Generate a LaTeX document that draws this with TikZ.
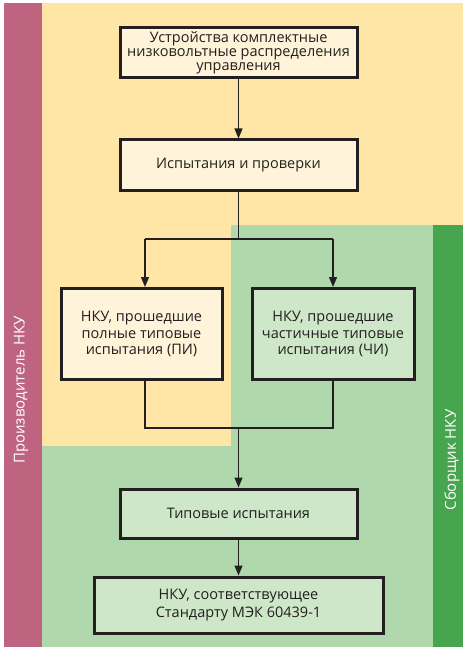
\documentclass[tikz,border=0pt]{standalone}
\usepackage{fontspec}
\setmainfont{Open Sans}
\usetikzlibrary{arrows.meta}
\definecolor{pinkc}{HTML}{BE6481}
\definecolor{yel}{HTML}{FFE6A6}
\definecolor{lgreen}{HTML}{AFD9AC}
\definecolor{dgreen}{HTML}{48A54F}
\definecolor{cream}{HTML}{FFF4D9}
\definecolor{gbox}{HTML}{CDE7C8}
\definecolor{ink}{HTML}{231F20}
\tikzset{
  box/.style={draw=ink, line width=3pt, inner sep=0pt, align=center, text=ink,
    font=\fontsize{14.5}{16.5}\selectfont},
  conn/.style={draw=ink, line width=1.3pt},
  arr/.style={conn, -{Triangle[length=10pt,width=8pt]}},
  side/.style={rotate=90, text=white, font=\fontsize{15}{16}\selectfont, inner sep=0pt}
}
\begin{document}
\begin{tikzpicture}[x=1pt,y=-1pt]
\useasboundingbox (0,0) rectangle (463,647);
\fill[white] (0,0) rectangle (463,647);
\fill[yel] (42,3) rectangle (463,225);
\fill[yel] (42,225) rectangle (231,446);
\fill[lgreen] (231,225) rectangle (433,647);
\fill[lgreen] (42,446) rectangle (231,647);
\fill[pinkc] (4,3) rectangle (42,647);
\fill[dgreen] (433,225) rectangle (463,647);

\node[side] (prod) at (21,390) {Производитель НКУ};
\node[side] (asm) at (452,460) {Сборщик НКУ};

\node[box, fill=cream, minimum width=237pt, minimum height=50pt,
  font=\fontsize{14.5}{14}\selectfont] (b1) at (238.5,53)
  {Устройства комплектные\\низковольтные распределения\\управления};
\node[box, fill=cream, minimum width=237pt, minimum height=50pt] (b2) at (238.5,165)
  {Испытания и проверки};
\node[box, fill=cream, minimum width=161pt, minimum height=91pt] (b3) at (141.5,334)
  {НКУ, прошедшие\\полные типовые\\испытания (ПИ)};
\node[box, fill=gbox, minimum width=162pt, minimum height=91pt] (b4) at (333,334)
  {НКУ, прошедшие\\частичные типовые\\испытания (ЧИ)};
\node[box, fill=gbox, minimum width=237pt, minimum height=49pt] (b5) at (238.5,513.5)
  {Типовые испытания};
\node[box, fill=gbox, minimum width=289pt, minimum height=56pt,
  font=\fontsize{14.5}{18}\selectfont] (b6) at (238.5,605)
  {НКУ, соответствующее\\Стандарту МЭК 60439-1};

\coordinate (j1) at (238.5,239);
\coordinate (jl) at (145,239);
\coordinate (jr) at (333,239);
\coordinate (kl) at (145,428);
\coordinate (kr) at (333,428);
\coordinate (k1) at (238.5,428);

\draw[arr] (b1) -- (b2);
\draw[conn] (b2) -- (j1);
\draw[conn] (jl) -- (jr);
\draw[arr] (jl) -- (jl |- b3.north);
\draw[arr] (jr) -- (jr |- b4.north);
\draw[conn] (kl |- b3.south) -- (kl) -- (kr) -- (kr |- b4.south);
\draw[arr] (k1) -- (b5);
\draw[arr] (b5) -- (b6);
\end{tikzpicture}
\end{document}
